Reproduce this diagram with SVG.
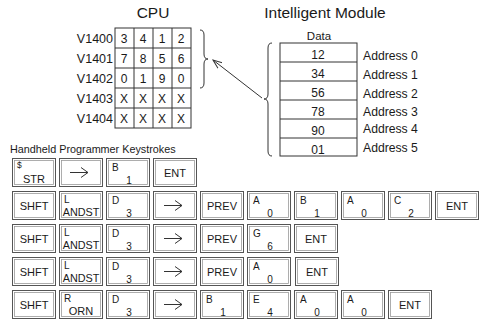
<svg xmlns="http://www.w3.org/2000/svg" xmlns:xlink="http://www.w3.org/1999/xlink" width="483" height="323" viewBox="0 0 483 323">
<style>
text{font-family:"Liberation Sans",Arial,sans-serif;fill:#1a1a1a}
.title{font-size:15.5px;text-anchor:middle}
.vlab{font-size:12.5px;text-anchor:end}
.cell{font-size:12px;text-anchor:middle}
.addr{font-size:12.2px}
.cellline{fill:#fff;stroke:#333;stroke-width:1}
.k{font-size:10px}
.kd{font-size:10px;text-anchor:middle}
.kc{font-size:11px;text-anchor:middle}
.ko{fill:#fff;stroke:#555;stroke-width:1}
.ki{fill:none;stroke:#999;stroke-width:0.8}
.ln{fill:none;stroke:#333;stroke-width:1}
</style>
<defs>
<g id="kf"><rect class="ko" x="0.5" y="0.5" width="43" height="28"/><rect class="ki" x="2.5" y="2.5" width="39" height="24"/></g>
<g id="ka"><path class="ln" d="M11,14.5 H29 M22,9.5 L29,14.5 L22,19.5"/></g>
<marker id="ah" markerWidth="10" markerHeight="10" refX="9" refY="5" orient="auto" markerUnits="userSpaceOnUse"><path d="M0,1.5 L9,5 L0,8.5" fill="none" stroke="#333" stroke-width="1"/></marker>
</defs>
<rect width="483" height="323" fill="#fff"/>

<g id="cpu">
<text class="title" x="153" y="18">CPU</text>
<g class="cellline">
<rect x="115" y="28" width="76" height="100"/>
<path d="M134,28V128M153,28V128M172,28V128M115,48H191M115,68H191M115,88H191M115,108H191"/>
</g>
<text class="vlab" x="113" y="43">V1400</text>
<text class="vlab" x="113" y="63">V1401</text>
<text class="vlab" x="113" y="83">V1402</text>
<text class="vlab" x="113" y="103">V1403</text>
<text class="vlab" x="113" y="123">V1404</text>
<g class="cell">
<text x="124" y="43">3</text><text x="143" y="43">4</text><text x="162" y="43">1</text><text x="181" y="43">2</text>
<text x="124" y="63">7</text><text x="143" y="63">8</text><text x="162" y="63">5</text><text x="181" y="63">6</text>
<text x="124" y="83">0</text><text x="143" y="83">1</text><text x="162" y="83">9</text><text x="181" y="83">0</text>
<text x="124" y="103">X</text><text x="143" y="103">X</text><text x="162" y="103">X</text><text x="181" y="103">X</text>
<text x="124" y="123">X</text><text x="143" y="123">X</text><text x="162" y="123">X</text><text x="181" y="123">X</text>
</g>
<path class="ln" d="M200,30 Q204,30 204,35 L204,54 Q204,59 208,59 Q204,59 204,64 L204,83 Q204,88 200,88"/>
</g>

<g id="module">
<text class="title" x="325" y="18">Intelligent Module</text>
<text x="319" y="40" style="font-size:11.5px;text-anchor:middle">Data</text>
<g class="cellline">
<rect x="280" y="43" width="77" height="113"/>
<path d="M280,62H357M280,81H357M280,100H357M280,119H357M280,138H357"/>
</g>
<g class="cell">
<text x="318" y="58.5">12</text><text x="318" y="77.5">34</text><text x="318" y="96.5">56</text>
<text x="318" y="115.5">78</text><text x="318" y="134.5">90</text><text x="318" y="153.5">01</text>
</g>
<g class="addr">
<text x="363" y="59.5">Address 0</text><text x="363" y="78.5">Address 1</text><text x="363" y="97.5">Address 2</text>
<text x="363" y="116">Address 3</text><text x="363" y="132.5">Address 4</text><text x="363" y="151.5">Address 5</text>
</g>
<path class="ln" d="M272,43 Q268,43 268,48 L268,94 Q268,99 264,99 Q268,99 268,104 L268,151 Q268,156 272,156"/>
</g>

<g id="connectors">
<line class="ln" x1="262" y1="98" x2="213" y2="60" marker-end="url(#ah)"/>
</g>

<text x="10" y="153" style="font-size:10.8px">Handheld Programmer Keystrokes</text>

<g id="row1">
<g id="r1k1" transform="translate(12,158)"><use xlink:href="#kf"/><text class="k" x="5" y="10" style="font-size:8.5px">$</text><text class="kc" x="22" y="25">STR</text></g>
<g id="r1k2" transform="translate(59,158)"><use xlink:href="#kf"/><use xlink:href="#ka"/></g>
<g id="r1k3" transform="translate(106,158)"><use xlink:href="#kf"/><text class="k" x="6" y="13">B</text><text class="kd" x="23" y="25.5">1</text></g>
<g id="r1k4" transform="translate(153,158)"><use xlink:href="#kf"/><text class="kc" x="22" y="18.5">ENT</text></g>
</g>

<g id="row2">
<g id="r2k1" transform="translate(12,191)"><use xlink:href="#kf"/><text class="kc" x="22" y="18.5">SHFT</text></g>
<g id="r2k2" transform="translate(59,191)"><use xlink:href="#kf"/><text class="k" x="5" y="12">L</text><text class="kc" x="22" y="25" style="font-size:10.8px">ANDST</text></g>
<g id="r2k3" transform="translate(106,191)"><use xlink:href="#kf"/><text class="k" x="6" y="13">D</text><text class="kd" x="23" y="25.5">3</text></g>
<g id="r2k4" transform="translate(153,191)"><use xlink:href="#kf"/><use xlink:href="#ka"/></g>
<g id="r2k5" transform="translate(200,191)"><use xlink:href="#kf"/><text class="kc" x="22" y="18.5">PREV</text></g>
<g id="r2k6" transform="translate(247,191)"><use xlink:href="#kf"/><text class="k" x="6" y="13">A</text><text class="kd" x="23" y="25.5">0</text></g>
<g id="r2k7" transform="translate(294,191)"><use xlink:href="#kf"/><text class="k" x="6" y="13">B</text><text class="kd" x="23" y="25.5">1</text></g>
<g id="r2k8" transform="translate(341,191)"><use xlink:href="#kf"/><text class="k" x="6" y="13">A</text><text class="kd" x="23" y="25.5">0</text></g>
<g id="r2k9" transform="translate(388,191)"><use xlink:href="#kf"/><text class="k" x="6" y="13">C</text><text class="kd" x="23" y="25.5">2</text></g>
<g id="r2k10" transform="translate(435,191)"><use xlink:href="#kf"/><text class="kc" x="22" y="18.5">ENT</text></g>
</g>

<g id="row3">
<g id="r3k1" transform="translate(12,224)"><use xlink:href="#kf"/><text class="kc" x="22" y="18.5">SHFT</text></g>
<g id="r3k2" transform="translate(59,224)"><use xlink:href="#kf"/><text class="k" x="5" y="12">L</text><text class="kc" x="22" y="25" style="font-size:10.8px">ANDST</text></g>
<g id="r3k3" transform="translate(106,224)"><use xlink:href="#kf"/><text class="k" x="6" y="13">D</text><text class="kd" x="23" y="25.5">3</text></g>
<g id="r3k4" transform="translate(153,224)"><use xlink:href="#kf"/><use xlink:href="#ka"/></g>
<g id="r3k5" transform="translate(200,224)"><use xlink:href="#kf"/><text class="kc" x="22" y="18.5">PREV</text></g>
<g id="r3k6" transform="translate(247,224)"><use xlink:href="#kf"/><text class="k" x="6" y="13">G</text><text class="kd" x="23" y="25.5">6</text></g>
<g id="r3k7" transform="translate(294,224)"><use xlink:href="#kf"/><text class="kc" x="22" y="18.5">ENT</text></g>
</g>

<g id="row4">
<g id="r4k1" transform="translate(12,257)"><use xlink:href="#kf"/><text class="kc" x="22" y="18.5">SHFT</text></g>
<g id="r4k2" transform="translate(59,257)"><use xlink:href="#kf"/><text class="k" x="5" y="12">L</text><text class="kc" x="22" y="25" style="font-size:10.8px">ANDST</text></g>
<g id="r4k3" transform="translate(106,257)"><use xlink:href="#kf"/><text class="k" x="6" y="13">D</text><text class="kd" x="23" y="25.5">3</text></g>
<g id="r4k4" transform="translate(153,257)"><use xlink:href="#kf"/><use xlink:href="#ka"/></g>
<g id="r4k5" transform="translate(200,257)"><use xlink:href="#kf"/><text class="kc" x="22" y="18.5">PREV</text></g>
<g id="r4k6" transform="translate(247,257)"><use xlink:href="#kf"/><text class="k" x="6" y="13">A</text><text class="kd" x="23" y="25.5">0</text></g>
<g id="r4k7" transform="translate(295,257)"><use xlink:href="#kf"/><text class="kc" x="22" y="18.5">ENT</text></g>
</g>

<g id="row5">
<g id="r5k1" transform="translate(12,290)"><use xlink:href="#kf"/><text class="kc" x="22" y="18.5">SHFT</text></g>
<g id="r5k2" transform="translate(59,290)"><use xlink:href="#kf"/><text class="k" x="5" y="12">R</text><text class="kc" x="22" y="25">ORN</text></g>
<g id="r5k3" transform="translate(106,290)"><use xlink:href="#kf"/><text class="k" x="6" y="13">D</text><text class="kd" x="23" y="25.5">3</text></g>
<g id="r5k4" transform="translate(153,290)"><use xlink:href="#kf"/><use xlink:href="#ka"/></g>
<g id="r5k5" transform="translate(200,290)"><use xlink:href="#kf"/><text class="k" x="6" y="13">B</text><text class="kd" x="23" y="25.5">1</text></g>
<g id="r5k6" transform="translate(247,290)"><use xlink:href="#kf"/><text class="k" x="6" y="13">E</text><text class="kd" x="23" y="25.5">4</text></g>
<g id="r5k7" transform="translate(294,290)"><use xlink:href="#kf"/><text class="k" x="6" y="13">A</text><text class="kd" x="23" y="25.5">0</text></g>
<g id="r5k8" transform="translate(341,290)"><use xlink:href="#kf"/><text class="k" x="6" y="13">A</text><text class="kd" x="23" y="25.5">0</text></g>
<g id="r5k9" transform="translate(388,290)"><use xlink:href="#kf"/><text class="kc" x="22" y="18.5">ENT</text></g>
</g>
</svg>
